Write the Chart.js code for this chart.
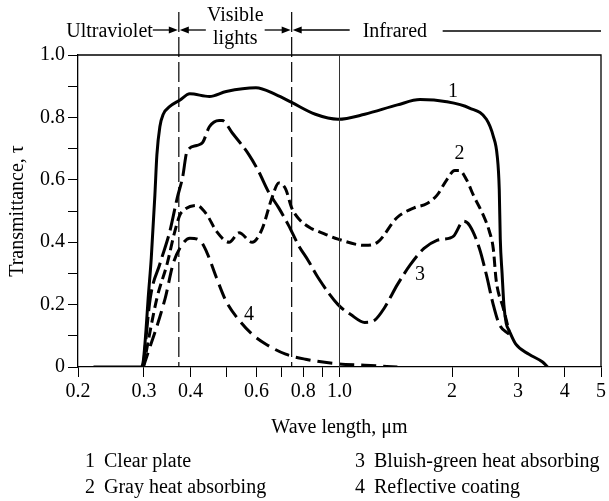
<!DOCTYPE html>
<html>
<head>
<meta charset="utf-8">
<script src="https://cdn.jsdelivr.net/npm/chart.js@4/dist/chart.umd.min.js"></script>
<style>
  html, body { margin: 0; padding: 0; background: #fff; }
  #wrap { width: 609px; height: 501px; }
</style>
</head>
<body>
<div id="wrap"><canvas id="glassChart"></canvas></div>
<script>
// wave length (um) / transmittance
const clearWave = [0.22, 0.295, 0.299, 0.304, 0.308, 0.314, 0.321, 0.325, 0.331, 0.338, 0.352, 0.374, 0.398, 0.449, 0.498, 0.598, 0.676, 0.745, 0.862, 0.991, 1.168, 1.428, 1.642, 1.935, 2.226, 2.47, 2.576, 2.64, 2.673, 2.69, 2.72, 2.75, 2.79, 2.84, 2.96, 3.21, 3.49, 3.6];
const clearTau = [0, 0, 0.02, 0.12, 0.22, 0.35, 0.55, 0.68, 0.77, 0.81, 0.835, 0.855, 0.876, 0.867, 0.883, 0.895, 0.873, 0.848, 0.81, 0.794, 0.81, 0.84, 0.857, 0.85, 0.83, 0.794, 0.74, 0.676, 0.57, 0.41, 0.3, 0.2, 0.14, 0.117, 0.073, 0.041, 0.016, 0];

const grayWave = [0.299, 0.325, 0.346, 0.363, 0.374, 0.381, 0.415, 0.441, 0.469, 0.507, 0.539, 0.584, 0.62, 0.659, 0.688, 0.718, 0.745, 0.777, 0.841, 0.877, 0.991, 1.168, 1.264, 1.428, 1.583, 1.714, 1.821, 1.935, 2.032, 2.094, 2.186, 2.281, 2.424, 2.515, 2.576, 2.624, 2.738, 2.84];
const grayTau = [0, 0.22, 0.33, 0.435, 0.486, 0.5, 0.518, 0.49, 0.435, 0.4, 0.43, 0.4, 0.44, 0.54, 0.59, 0.57, 0.51, 0.476, 0.444, 0.435, 0.41, 0.39, 0.4, 0.48, 0.51, 0.524, 0.55, 0.6, 0.63, 0.63, 0.6, 0.55, 0.486, 0.435, 0.38, 0.276, 0.19, 0.115];

const bluishWave = [0.299, 0.312, 0.331, 0.352, 0.368, 0.381, 0.391, 0.415, 0.431, 0.449, 0.477, 0.486, 0.517, 0.573, 0.609, 0.647, 0.688, 0.731, 0.777, 0.826, 0.877, 0.991, 1.072, 1.168, 1.241, 1.319, 1.428, 1.545, 1.682, 1.821, 1.971, 2.02, 2.146, 2.226, 2.366, 2.47, 2.576, 2.673, 2.84];
const bluishTau = [0, 0.22, 0.33, 0.435, 0.54, 0.61, 0.69, 0.71, 0.72, 0.77, 0.79, 0.79, 0.75, 0.68, 0.625, 0.56, 0.51, 0.454, 0.39, 0.34, 0.286, 0.2, 0.168, 0.143, 0.15, 0.19, 0.264, 0.327, 0.38, 0.406, 0.413, 0.42, 0.467, 0.454, 0.38, 0.295, 0.2, 0.137, 0.105];

const coatWave = [0.299, 0.342, 0.359, 0.374, 0.398, 0.423, 0.441, 0.469, 0.498, 0.539, 0.584, 0.636, 0.718, 0.811, 0.991, 1.168, 1.428];
const coatTau = [0, 0.22, 0.33, 0.38, 0.413, 0.406, 0.37, 0.286, 0.21, 0.15, 0.105, 0.073, 0.041, 0.025, 0.01, 0.006, 0];

const xTickValues = [0.2, 0.3, 0.4, 0.5, 0.6, 0.7, 0.8, 0.9, 1, 2, 3, 4, 5];
const xTickLabels = ["0.2", "0.3", "0.4", "", "0.6", "", "0.8", "", "1.0", "2", "3", "4", "5"];
const yTickValues = [0, 0.1, 0.2, 0.3, 0.4, 0.5, 0.6, 0.7, 0.8, 0.9, 1.0];
const yTickLabels = ["0", "", "0.2", "", "0.4", "", "0.6", "", "0.8", "", "1.0"];

// band edges (um): ultraviolet | visible | infrared
const bandEdges = [0.372, 0.745];
const curveNames = ["Clear plate", "Gray heat absorbing", "Bluish-green heat absorbing", "Reflective coating"];
// where the numbers 1..4 sit next to the curves
const curveTagWave = [2.01, 2.094, 1.642, 0.573];
const curveTagTau = [0.883, 0.683, 0.295, 0.168];

const FONT = "'Liberation Serif', 'Times New Roman', serif";

function pts(wave, tau) {
  return wave.map((w, i) => ({ x: w, y: tau[i] }));
}

function arrow(ctx, x1, x2, yy) {
  const dir = x2 > x1 ? 1 : -1;
  ctx.beginPath();
  ctx.moveTo(x1, yy);
  ctx.lineTo(x2 - dir * 6, yy);
  ctx.stroke();
  ctx.beginPath();
  ctx.moveTo(x2, yy);
  ctx.lineTo(x2 - dir * 9, yy - 3.5);
  ctx.lineTo(x2 - dir * 9, yy + 3.5);
  ctx.closePath();
  ctx.fill();
}

const annotate = {
  id: "annotate",
  afterDraw(chart) {
    const { ctx, chartArea: a } = chart;
    const xs = chart.scales.x;
    const ys = chart.scales.y;
    ctx.save();
    ctx.strokeStyle = "#000";
    ctx.fillStyle = "#000";

    // frame top / right
    ctx.lineWidth = 1.3;
    ctx.beginPath();
    ctx.moveTo(a.left, a.top);
    ctx.lineTo(a.right, a.top);
    ctx.lineTo(a.right, a.bottom);
    ctx.stroke();

    // 1.0 um line
    const x1 = xs.getPixelForValue(1);
    ctx.lineWidth = 1;
    ctx.strokeStyle = "#333";
    ctx.beginPath();
    ctx.moveTo(x1, a.top);
    ctx.lineTo(x1, a.bottom);
    ctx.stroke();

    // band edges
    const uvX = xs.getPixelForValue(bandEdges[0]);
    const irX = xs.getPixelForValue(bandEdges[1]);
    ctx.strokeStyle = "#000";
    ctx.lineWidth = 1.2;
    ctx.setLineDash([20, 5]);
    [uvX, irX].forEach((px) => {
      ctx.beginPath();
      ctx.moveTo(px, 12);
      ctx.lineTo(px, a.bottom);
      ctx.stroke();
    });
    ctx.setLineDash([]);

    // band captions
    ctx.font = "20px " + FONT;
    ctx.textBaseline = "alphabetic";
    ctx.textAlign = "right";
    ctx.fillText("Ultraviolet", uvX - 26, 37);
    ctx.textAlign = "center";
    const mid = (uvX + irX) / 2;
    ctx.fillText("Visible", mid, 21);
    ctx.fillText("lights", mid, 44);
    ctx.textAlign = "left";
    ctx.fillText("Infrared", irX + 71, 37);

    ctx.lineWidth = 1.3;
    arrow(ctx, uvX - 26, uvX - 1, 30);
    arrow(ctx, uvX + 27, uvX + 1, 30);
    arrow(ctx, irX - 27, irX - 1, 30);
    arrow(ctx, irX + 58, irX + 1, 30);
    ctx.beginPath();
    ctx.moveTo(irX + 151, 31);
    ctx.lineTo(a.right, 31);
    ctx.stroke();

    // curve numbers
    ctx.textAlign = "center";
    ctx.textBaseline = "middle";
    curveTagWave.forEach((w, i) => {
      ctx.fillText(String(i + 1), xs.getPixelForValue(w), ys.getPixelForValue(curveTagTau[i]));
    });

    // key below the axis
    ctx.textAlign = "left";
    const cols = [85, 355];
    const rows = [462, 488];
    curveNames.forEach((name, i) => {
      const cx = cols[i < 2 ? 0 : 1];
      const cy = rows[i % 2];
      ctx.fillText(String(i + 1), cx, cy);
      ctx.fillText(name, cx + 19, cy);
    });
    ctx.restore();
  },
};

const ctx = document.getElementById("glassChart").getContext("2d");

new Chart(ctx, {
  type: "line",
  data: {
    datasets: [
      { label: curveNames[0], data: pts(clearWave, clearTau), borderColor: "#000", borderWidth: 3 },
      { label: curveNames[1], data: pts(grayWave, grayTau), borderColor: "#000", borderWidth: 3, borderDash: [10, 5] },
      { label: curveNames[2], data: pts(bluishWave, bluishTau), borderColor: "#000", borderWidth: 3, borderDash: [22, 6] },
      { label: curveNames[3], data: pts(coatWave, coatTau), borderColor: "#000", borderWidth: 3, borderDash: [15, 7] },
    ],
  },
  options: {
    responsive: true,
    maintainAspectRatio: false,
    animation: false,
    layout: { padding: { top: 55, right: 4, left: 0, bottom: 61 } },
    elements: {
      point: { radius: 0, hoverRadius: 0 },
      line: { cubicInterpolationMode: "monotone", fill: false, borderCapStyle: "butt" },
    },
    scales: {
      x: {
        type: "logarithmic",
        min: 0.2,
        max: 5,
        afterBuildTicks: (axis) => {
          axis.ticks = xTickValues.map((v) => ({ value: v }));
        },
        ticks: {
          autoSkip: false,
          maxRotation: 0,
          padding: 3,
          color: "#000",
          font: { family: FONT, size: 20 },
          callback: (v, i) => xTickLabels[i],
        },
        grid: { drawOnChartArea: false, drawTicks: true, tickLength: 10, color: "#000", lineWidth: 1 },
        border: { color: "#000", width: 1.3 },
        title: {
          display: true,
          text: "Wave length, \u03bcm",
          color: "#000",
          font: { family: FONT, size: 20 },
          padding: { top: 9, bottom: 0 },
        },
      },
      y: {
        min: 0,
        max: 1,
        afterBuildTicks: (axis) => {
          axis.ticks = yTickValues.map((v) => ({ value: v }));
        },
        afterFit: (axis) => {
          axis.width = 78;
        },
        ticks: {
          padding: 3,
          color: "#000",
          font: { family: FONT, size: 20 },
          callback: (v, i) => yTickLabels[i],
        },
        grid: { drawOnChartArea: false, drawTicks: true, tickLength: 10, color: "#000", lineWidth: 1 },
        border: { color: "#000", width: 1.3 },
        title: {
          display: true,
          text: "Transmittance, \u03c4",
          color: "#000",
          font: { family: FONT, size: 20 },
          padding: { top: 6, bottom: 0 },
        },
      },
    },
    plugins: {
      legend: { display: false },
      tooltip: { enabled: false },
    },
  },
  plugins: [annotate],
});
</script>
</body>
</html>
